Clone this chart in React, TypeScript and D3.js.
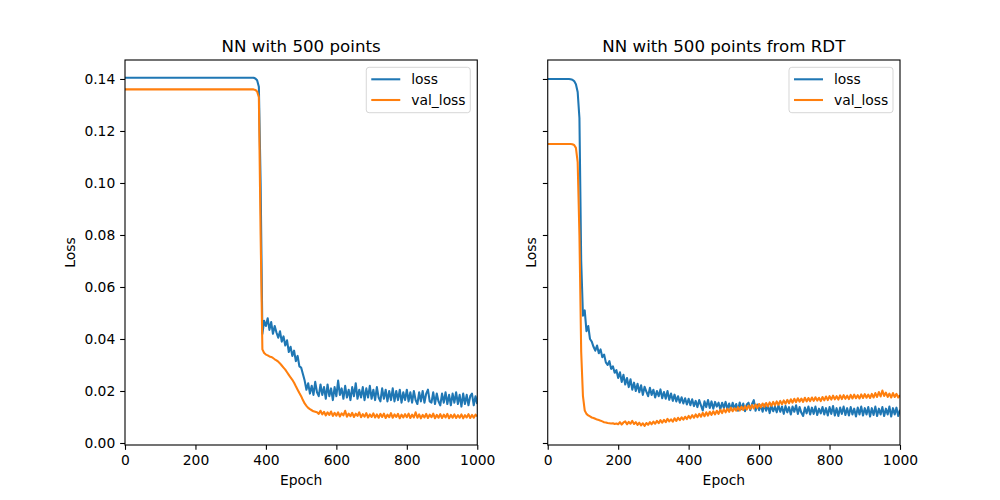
import * as d3 from "d3";
import * as React from "react";

// Loss values in units of 1e-4, one value every 5 epochs (0..1000)
const leftLoss = [
  1405, 1405, 1405, 1405, 1405, 1405, 1405, 1405, 1405, 1405,
  1405, 1405, 1405, 1405, 1405, 1405, 1405, 1405, 1405, 1405,
  1405, 1405, 1405, 1405, 1405, 1405, 1405, 1405, 1405, 1405,
  1405, 1405, 1405, 1405, 1405, 1405, 1405, 1405, 1405, 1405,
  1405, 1405, 1405, 1405, 1405, 1405, 1405, 1405, 1405, 1405,
  1405, 1405, 1405, 1405, 1405, 1405, 1405, 1405, 1405, 1405,
  1405, 1405, 1405, 1405, 1405, 1405, 1405, 1405, 1405, 1405,
  1405, 1405, 1405, 1405, 1402, 1395, 1370, 1000, 420, 470,
  450, 480, 435, 465, 420, 450, 425, 405, 430, 390,
  410, 375, 395, 350, 370, 335, 355, 315, 335, 295,
  290, 265, 240, 205, 230, 190, 220, 185, 235, 195,
  180, 225, 185, 215, 170, 225, 180, 210, 165, 215,
  180, 240, 185, 210, 170, 220, 175, 205, 165, 215,
  180, 230, 170, 205, 175, 215, 165, 210, 175, 220,
  170, 205, 165, 215, 175, 160, 210, 170, 205, 160,
  200, 165, 210, 160, 200, 165, 205, 155, 195, 165,
  205, 160, 195, 155, 200, 165, 150, 195, 160, 200,
  155, 190, 205, 160, 155, 195, 150, 190, 160, 145,
  190, 155, 195, 150, 185, 145, 190, 155, 195, 150,
  185, 140, 190, 150, 185, 145, 180, 190, 145, 180,
  150,
];

const leftValLoss = [
  1360, 1360, 1360, 1360, 1360, 1360, 1360, 1360, 1360, 1360,
  1360, 1360, 1360, 1360, 1360, 1360, 1360, 1360, 1360, 1360,
  1360, 1360, 1360, 1360, 1360, 1360, 1360, 1360, 1360, 1360,
  1360, 1360, 1360, 1360, 1360, 1360, 1360, 1360, 1360, 1360,
  1360, 1360, 1360, 1360, 1360, 1360, 1360, 1360, 1360, 1360,
  1360, 1360, 1360, 1360, 1360, 1360, 1360, 1360, 1360, 1360,
  1360, 1360, 1360, 1360, 1360, 1360, 1360, 1360, 1360, 1360,
  1360, 1360, 1360, 1360, 1358, 1352, 1330, 800, 360, 346,
  340, 337, 333, 331, 327, 322, 318, 313, 306, 298,
  290, 282, 272, 262, 252, 243, 232, 218, 205, 192,
  180, 165, 152, 143, 135, 130, 126, 122, 120, 118,
  112, 124, 110, 120, 106, 118, 108, 121, 104, 116,
  105, 118, 102, 114, 106, 124, 101, 113, 103, 116,
  100, 113, 104, 118, 99, 111, 101, 115, 98, 110,
  100, 114, 98, 110, 97, 112, 100, 113, 96, 109,
  99, 115, 97, 110, 100, 112, 95, 109, 98, 111,
  99, 113, 96, 109, 98, 118, 97, 110, 95, 108,
  98, 112, 96, 109, 99, 113, 95, 108, 97, 111,
  96, 109, 98, 112, 95, 108, 97, 110, 96, 107,
  97, 110, 95, 107, 98, 111, 96, 108, 97, 109,
  103,
];

const rightLoss = [
  1400, 1400, 1400, 1400, 1400, 1400, 1400, 1400, 1400, 1400,
  1400, 1400, 1400, 1399, 1397, 1392, 1380, 1350, 1250, 700,
  490, 510, 430, 450, 400, 390, 370, 355, 375, 345,
  360, 330, 340, 310, 300, 315, 285, 295, 270, 280,
  250, 272, 235, 262, 225, 250, 215, 245, 205, 232,
  200, 228, 195, 222, 185, 216, 198, 180, 212, 185,
  205, 175, 200, 180, 206, 172, 196, 170, 200, 166,
  190, 162, 186, 160, 180, 155, 176, 152, 172, 148,
  170, 145, 168, 142, 162, 138, 165, 145, 125, 160,
  138, 165, 135, 160, 132, 158, 140, 155, 130, 155,
  135, 158, 130, 152, 128, 155, 132, 150, 124, 156,
  130, 152, 122, 148, 155, 126, 150, 165, 124, 148,
  126, 145, 120, 148, 124, 146, 115, 144, 122, 140,
  118, 145, 120, 140, 112, 142, 118, 138, 110, 140,
  120, 145, 112, 138, 116, 104, 136, 114, 140, 110,
  136, 112, 140, 108, 132, 114, 138, 110, 134, 106,
  138, 112, 142, 106, 134, 104, 136, 112, 140, 108,
  134, 106, 138, 110, 132, 102, 136, 110, 140, 106,
  134, 110, 138, 102, 134, 108, 140, 104, 132, 110,
  138, 104, 132, 110, 140, 102, 134, 110, 136, 104,
  128,
];

const rightValLoss = [
  1150, 1150, 1150, 1150, 1150, 1150, 1150, 1150, 1150, 1150,
  1150, 1150, 1150, 1150, 1149, 1146, 1135, 1080, 800, 350,
  180, 125, 112, 106, 102, 98, 96, 93, 90, 88,
  86, 83, 80, 79, 77, 76, 75, 76, 73, 75,
  72, 80, 71, 79, 83, 72, 81, 74, 85, 73,
  80, 70, 78, 68, 76, 66, 77, 70, 80, 72,
  82, 74, 85, 76, 88, 78, 89, 80, 93, 83,
  91, 82, 95, 85, 97, 88, 99, 90, 101, 92,
  104, 95, 107, 97, 110, 99, 112, 101, 116, 103,
  118, 105, 120, 108, 122, 110, 124, 112, 128, 115,
  130, 118, 132, 120, 136, 122, 134, 124, 138, 125,
  140, 127, 142, 129, 144, 131, 146, 133, 148, 135,
  150, 137, 152, 139, 154, 141, 156, 143, 158, 145,
  160, 147, 162, 149, 164, 151, 166, 153, 168, 155,
  170, 157, 172, 159, 171, 158, 174, 160, 173, 161,
  175, 162, 176, 163, 174, 161, 177, 164, 179, 165,
  180, 167, 182, 168, 180, 167, 183, 169, 184, 170,
  182, 169, 185, 171, 186, 172, 184, 171, 187, 173,
  188, 174, 186, 173, 189, 175, 192, 177, 196, 179,
  202, 181, 194, 177, 190, 175, 192, 177, 189, 175,
  184,
];

const epochStep = 5;
const titles = ["NN with 500 points", "NN with 500 points from RDT"];
const seriesNames = ["loss", "val_loss"];
const colors = ["#1f77b4", "#ff7f0e"];
const xTicks = [0, 200, 400, 600, 800, 1000];
const yTicks = [0, 0.02, 0.04, 0.06, 0.08, 0.1, 0.12, 0.14];

const W = 1000,
  H = 500;
const axTop = 60,
  axBottom = 445,
  axWidth = 352.27;
const axLefts = [125, 547.73];
const font = "DejaVu Sans, sans-serif";

export default function App() {
  const ref = React.useRef<SVGSVGElement>(null);

  React.useEffect(() => {
    const svg = d3.select(ref.current);
    svg.selectAll("*").remove();

    const y = d3.scaleLinear().domain([-0.00077, 0.1473]).range([axBottom, axTop]);
    const panels = [
      [leftLoss, leftValLoss],
      [rightLoss, rightValLoss],
    ];

    panels.forEach((series, p) => {
      const left = axLefts[p];
      const right = left + axWidth;
      const x = d3.scaleLinear().domain([0, 1000]).range([left, right]);
      const g = svg.append("g");

      const clipId = "clip" + p;
      g.append("clipPath")
        .attr("id", clipId)
        .append("rect")
        .attr("x", left)
        .attr("y", axTop)
        .attr("width", axWidth)
        .attr("height", axBottom - axTop);

      const line = d3
        .line<number>()
        .x((d, i) => x(i * epochStep))
        .y((d) => y(d / 10000));

      series.forEach((vals, s) => {
        g.append("path")
          .attr("d", line(vals))
          .attr("fill", "none")
          .attr("stroke", colors[s])
          .attr("stroke-width", 2.08)
          .attr("stroke-linejoin", "round")
          .attr("clip-path", `url(#${clipId})`);
      });

      // axes
      const xAxis = g
        .append("g")
        .attr("transform", `translate(0,${axBottom})`)
        .call(
          d3
            .axisBottom(x)
            .tickValues(xTicks)
            .tickSize(4.86)
            .tickPadding(4.86)
            .tickFormat(d3.format("d"))
        );
      const yAxis = g
        .append("g")
        .attr("transform", `translate(${left},0)`)
        .call(
          d3
            .axisLeft(y)
            .tickValues(yTicks)
            .tickSize(4.86)
            .tickPadding(4.86)
            .tickFormat(p === 0 ? d3.format(".2f") : () => "")
        );
      [xAxis, yAxis].forEach((a) => {
        a.select(".domain").remove();
        a.selectAll("line").attr("stroke", "#000").attr("stroke-width", 1.1);
        a.selectAll("text")
          .attr("fill", "#000")
          .style("font-family", font)
          .style("font-size", "13.89px");
      });

      // spines
      g.append("rect")
        .attr("x", left)
        .attr("y", axTop)
        .attr("width", axWidth)
        .attr("height", axBottom - axTop)
        .attr("fill", "none")
        .attr("stroke", "#000")
        .attr("stroke-width", 1.1);

      // title and labels
      g.append("text")
        .attr("x", left + axWidth / 2)
        .attr("y", 51.7)
        .attr("text-anchor", "middle")
        .style("font-family", font)
        .style("font-size", "16.67px")
        .text(titles[p]);

      g.append("text")
        .attr("x", left + axWidth / 2)
        .attr("y", 485)
        .attr("text-anchor", "middle")
        .style("font-family", font)
        .style("font-size", "13.89px")
        .text("Epoch");

      const ylx = p === 0 ? 75 : 535.5;
      g.append("text")
        .attr("transform", `translate(${ylx},${(axTop + axBottom) / 2}) rotate(-90)`)
        .attr("text-anchor", "middle")
        .style("font-family", font)
        .style("font-size", "13.89px")
        .text("Loss");

      // legend
      const lx = right - 7 - 104,
        ly = 67.3;
      const leg = g.append("g");
      leg
        .append("rect")
        .attr("x", lx)
        .attr("y", ly)
        .attr("width", 104)
        .attr("height", 45.4)
        .attr("rx", 2.8)
        .attr("fill", "#fff")
        .attr("fill-opacity", 0.8)
        .attr("stroke", "#cccccc")
        .attr("stroke-opacity", 0.8)
        .attr("stroke-width", 1);
      seriesNames.forEach((name, s) => {
        const ry = ly + 12 + s * 20.7;
        leg
          .append("line")
          .attr("x1", lx + 5)
          .attr("x2", lx + 34)
          .attr("y1", ry)
          .attr("y2", ry)
          .attr("stroke", colors[s])
          .attr("stroke-width", 2.08);
        leg
          .append("text")
          .attr("x", lx + 45)
          .attr("y", ry)
          .attr("dy", "0.35em")
          .style("font-family", font)
          .style("font-size", "13.89px")
          .text(name);
      });
    });
  }, []);

  return (
    <svg
      ref={ref}
      width={W}
      height={H}
      style={{ position: "absolute", left: 0, top: 0, background: "#fff" }}
    />
  );
}
